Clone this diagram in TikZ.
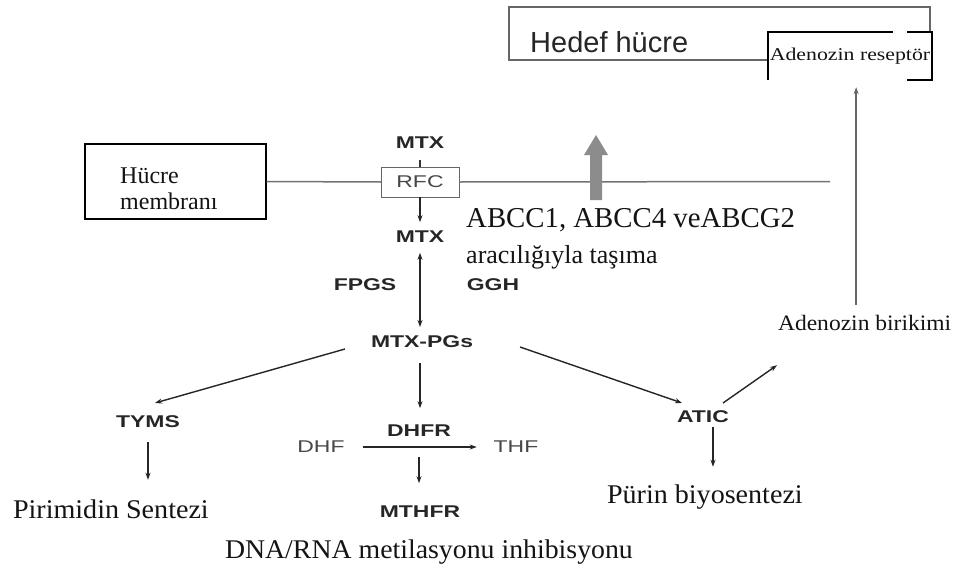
\documentclass[tikz,border=0pt]{standalone}
\usepackage{fontspec}
\setmainfont{Liberation Serif}
\newfontfamily\pwfont[FakeStretch=1.35]{Liberation Sans}
\newfontfamily\hsans{Liberation Sans}
\usetikzlibrary{arrows.meta}
\newcommand{\setfs}[1]{\fontsize{#1}{#1}\selectfont}
\begin{document}
\begin{tikzpicture}[x=1pt,y=-1pt,
  pwb/.style={inner sep=0pt, outer sep=0pt, text=black!85, font=\pwfont\bfseries\setfs{17}},
  pwr/.style={inner sep=0pt, outer sep=0pt, text=black!72, font=\pwfont\setfs{17}},
  serif/.style={inner sep=0pt, outer sep=0pt, text=black!92},
  arr/.style={line width=1.4pt, draw=black!85, -{Stealth[length=7pt,width=5pt]}},
  darr/.style={line width=1.4pt, draw=black!85, {Stealth[length=7pt,width=5pt]}-{Stealth[length=7pt,width=5pt]}},
  plain/.style={line width=1.3pt, draw=black!80},
  memb/.style={line width=1.5pt, draw=black!55},
  resline/.style={line width=1.6pt, draw=black},
]
\fill[white] (0,0) rectangle (957,570);
\useasboundingbox (0,0) rectangle (957,570);

% target cell
\node[draw=black!60, line width=1.1pt, minimum width=421pt, minimum height=53pt, inner sep=0pt] (hbox) at (719.5,33.5) {};
\node[anchor=base west, inner sep=0pt, text=black!85, font=\hsans\setfs{29}] (hedef) at (530,52) {Hedef hücre};
\node[fill=white, minimum width=164pt, minimum height=48pt, inner sep=0pt, text=black!92, font=\setfs{18}] (res) at (850,56) {\scalebox{1.21}[1]{Adenozin reseptör}};
\draw[resline] (res.south west) -- (res.north west) -- ([xshift=-39pt]res.north east);
\draw[resline] ([xshift=-25pt]res.north east) -- (res.north east) -- (res.south east) -- ([xshift=-25pt]res.south east);

% cell membrane
\node[draw=black, line width=1.2pt, minimum width=181pt, minimum height=75pt, inner sep=0pt] (hm) at (175.5,181.5) {};
\node[anchor=north west, align=left, inner sep=0pt, text=black!92, font=\fontsize{24}{26}\selectfont] (hmt) at (120,168) {Hücre\\membranı};
\node[draw=black!60, line width=1pt, minimum width=78pt, minimum height=30pt, pwr] (rfc) at (420,182) {RFC};
\coordinate (mend) at (830,181.5);
\draw[memb] (hm.east) -- (rfc.west);
\draw[memb] (rfc.east) -- (mend);

% grey efflux arrow
\fill[black!45] (590,200) -- (602,200) -- (602,155) -- (608,155) -- (596,135) -- (584,155) -- (590,155) -- cycle;
\node[anchor=north west, align=left, inner sep=0pt, text=black!92, font=\fontsize{28.8}{36}\selectfont] (abc) at (466,208) {ABCC1, ABCC4 veABCG2\\{\fontsize{26}{36}\selectfont aracılığıyla taşıma}};

% pathway labels
\node[pwb] (mtx1) at (420,143) {MTX};
\node[pwb] (mtx2) at (420,237) {MTX};
\node[pwb] (fpgs) at (365,285) {FPGS};
\node[pwb] (ggh) at (493,285) {GGH};
\node[pwb] (mtxpg) at (422,342) {MTX-PGs};
\node[pwb] (tyms) at (148,422) {TYMS};
\node[pwb] (dhfr) at (419,431) {DHFR};
\node[pwr] (dhf) at (321,447) {DHF};
\node[pwr] (thf) at (516,447) {THF};
\node[pwb] (mthfr) at (420,512) {MTHFR};
\node[pwb] (atic) at (703,417) {ATIC};

% outcome texts
\node[serif, anchor=base west, font=\setfs{27}] (pir) at (13,518) {\scalebox{1.04}[1]{Pirimidin Sentezi}};
\node[serif, anchor=base west, font=\setfs{27}] (dna) at (225,558) {\scalebox{1.03}[1]{DNA/RNA metilasyonu inhibisyonu}};
\node[serif, anchor=base west, font=\setfs{27}] (pur) at (607,503) {\scalebox{1.04}[1]{Pürin biyosentezi}};
\node[serif, anchor=base west, font=\setfs{22}] (adbir) at (778,330) {\scalebox{1.07}[1]{Adenozin birikimi}};

% connectors
\draw[plain, shorten <=11pt] (mtx1) -- (rfc.north);
\draw[arr, shorten >=9pt] (rfc.south) -- (mtx2.north);
\draw[darr, shorten <=10pt, shorten >=9pt] (mtx2.south) -- (mtx2.south |- mtxpg.north);
\draw[arr, shorten <=15pt, shorten >=17pt] (mtx2.south |- mtxpg.south) -- (mtx2.south |- dhfr.north);
\draw[arr, shorten <=18pt, shorten >=17pt] (dhf.east) -- (thf.west);
\draw[arr, shorten <=20pt, shorten >=23pt] (dhfr.south) -- (dhfr.south |- mthfr.north);
\draw[arr] ([xshift=-26pt,yshift=-7pt]mtxpg.west) -- ([xshift=7pt,yshift=13pt]tyms.north);
\draw[arr] ([xshift=47pt,yshift=-5pt]mtxpg.east) -- ([xshift=-21pt,yshift=8pt]atic.north);
\draw[arr] ([xshift=20pt,yshift=8pt]atic.north) -- ([xshift=-1pt,yshift=-35pt]adbir.south west);
\draw[arr, shorten <=4pt, shorten >=17.5pt] ([xshift=10pt]atic.south) -- ([xshift=10pt]atic.south |- pur.north);
\draw[arr, shorten <=14pt, shorten >=19.5pt] (tyms.south) -- (tyms.south |- pir.north);
\draw[arr, line width=2pt, draw=black!60, shorten <=10pt, shorten >=7pt] ([xshift=-8.5pt]adbir.north) -- ([xshift=-8.5pt]adbir.north |- res.south);
\end{tikzpicture}
\end{document}
